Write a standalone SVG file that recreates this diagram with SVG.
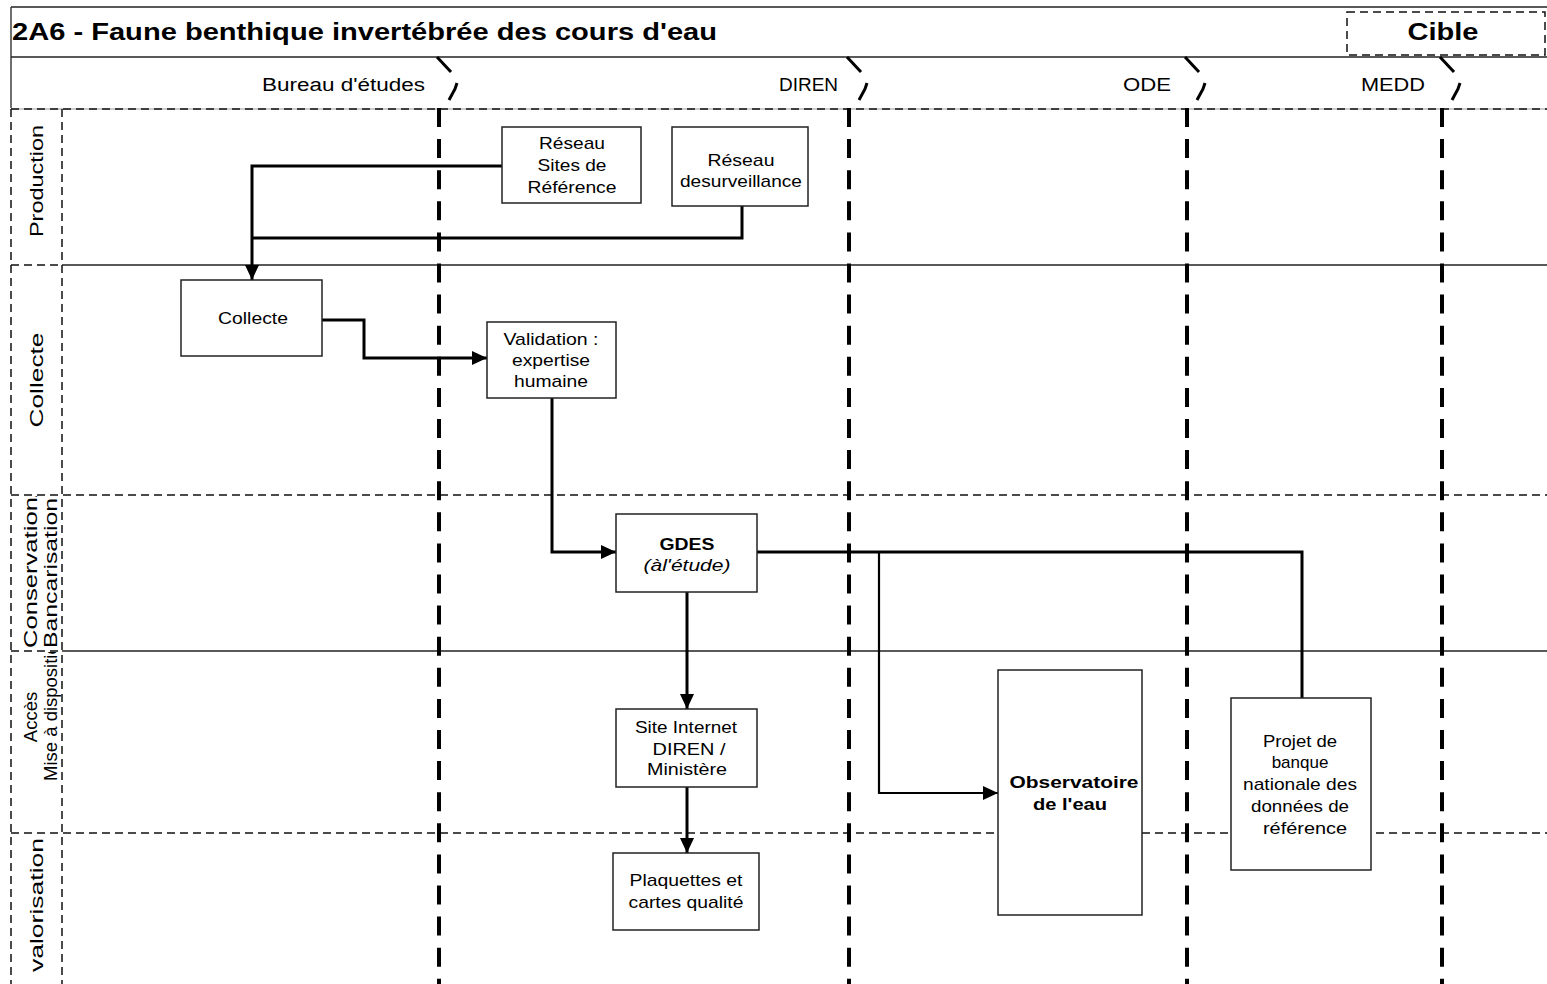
<svg xmlns="http://www.w3.org/2000/svg" width="1547" height="984" viewBox="0 0 1547 984">
<style>
text{font-family:"Liberation Sans",Arial,sans-serif;fill:#000}
.nt{font-size:17px;text-anchor:middle}
.lane{font-size:18px}
.side{font-size:19px}
.side2{font-size:18.5px}
.box{fill:#fff;stroke:#222;stroke-width:1.5}
.thin{stroke:#222;stroke-width:1.3;fill:none}
.hd{stroke:#111;stroke-width:1.5;stroke-dasharray:8 5;fill:none}
.vd{stroke:#000;stroke-width:4;stroke-dasharray:19 12.1;fill:none}
.br{stroke:#000;stroke-width:3;fill:none}
.cn{stroke:#000;stroke-width:3;fill:none}
</style>
<defs>
<marker id="ah" markerUnits="userSpaceOnUse" markerWidth="15" markerHeight="14" refX="15" refY="7" orient="auto">
<path d="M0,0 L15,7 L0,14 Z" fill="#000"/>
</marker>
<clipPath id="c1"><rect x="12" y="109" width="50" height="156"/></clipPath>
<clipPath id="c2"><rect x="12" y="265" width="50" height="230"/></clipPath>
<clipPath id="c3"><rect x="12" y="496" width="50" height="155"/></clipPath>
<clipPath id="c4"><rect x="12" y="652" width="50" height="181"/></clipPath>
<clipPath id="c5"><rect x="12" y="833" width="50" height="151"/></clipPath>
</defs>
<rect width="1547" height="984" fill="#fff"/>

<g id="frame">
<line class="thin" x1="11" y1="7" x2="1547" y2="7"/>
<line class="thin" x1="11" y1="7" x2="11" y2="108"/>
<line class="thin" x1="11" y1="57" x2="1547" y2="57"/>
<line x1="11" y1="109" x2="1547" y2="109" stroke="#bbb" stroke-width="1.5"/>
<line class="hd" x1="11" y1="109" x2="1547" y2="109"/>
<text x="12" y="40" font-size="23" font-weight="bold" textLength="705" lengthAdjust="spacingAndGlyphs">2A6 - Faune benthique invertébrée des cours d'eau</text>
<rect x="1347" y="12" width="198" height="43" fill="none" stroke="#111" stroke-width="1.5" stroke-dasharray="8 5"/>
<text x="1443" y="40" font-size="23" font-weight="bold" text-anchor="middle" textLength="71" lengthAdjust="spacingAndGlyphs">Cible</text>
</g>

<g id="lane-headers">
<text class="lane" x="262" y="91" textLength="163" lengthAdjust="spacingAndGlyphs">Bureau d'études</text>
<text class="lane" x="779" y="91" textLength="59" lengthAdjust="spacingAndGlyphs">DIREN</text>
<text class="lane" x="1123" y="91" textLength="48" lengthAdjust="spacingAndGlyphs">ODE</text>
<text class="lane" x="1361" y="91" textLength="64" lengthAdjust="spacingAndGlyphs">MEDD</text>
<path class="br" d="M437,57 L451,72 M457,83 L455,89 L449,100"/>
<path class="br" d="M847,57 L861,72 M867,83 L865,89 L859,100"/>
<path class="br" d="M1185,57 L1199,72 M1205,83 L1203,89 L1197,100"/>
<path class="br" d="M1440,57 L1454,72 M1460,83 L1458,89 L1452,100"/>
</g>

<g id="swimlanes">
<line class="hd" x1="11" y1="109" x2="11" y2="984"/>
<line class="hd" x1="62" y1="109" x2="62" y2="984"/>
<line class="hd" x1="11" y1="265" x2="62" y2="265"/>
<line class="thin" x1="62" y1="265" x2="1547" y2="265"/>
<line class="hd" x1="11" y1="495" x2="1547" y2="495"/>
<line class="hd" x1="11" y1="651" x2="62" y2="651"/>
<line class="thin" x1="62" y1="651" x2="1547" y2="651"/>
<line class="hd" x1="11" y1="833" x2="1547" y2="833"/>
<line class="vd" x1="439" y1="108" x2="439" y2="984"/>
<line class="vd" x1="849" y1="108" x2="849" y2="984"/>
<line class="vd" x1="1187" y1="108" x2="1187" y2="984"/>
<line class="vd" x1="1442" y1="108" x2="1442" y2="984"/>
<g clip-path="url(#c1)"><text class="side" x="43" y="181" transform="rotate(-90 43 181)" text-anchor="middle" textLength="112" lengthAdjust="spacingAndGlyphs">Production</text></g>
<g clip-path="url(#c2)"><text class="side" x="43" y="380" transform="rotate(-90 43 380)" text-anchor="middle" textLength="95" lengthAdjust="spacingAndGlyphs">Collecte</text></g>
<g clip-path="url(#c3)">
<text class="side" x="37" y="648" transform="rotate(-90 37 648)" textLength="158" lengthAdjust="spacingAndGlyphs">Conservation/</text>
<text class="side" x="57" y="648" transform="rotate(-90 57 648)" textLength="150" lengthAdjust="spacingAndGlyphs">Bancarisation</text>
</g>
<g clip-path="url(#c4)">
<text class="side2" x="37" y="717" transform="rotate(-90 37 717)" text-anchor="middle">Accès</text>
<text class="side2" x="57" y="781" transform="rotate(-90 57 781)">Mise à disposition</text>
</g>
<g clip-path="url(#c5)"><text class="side" x="43" y="905" transform="rotate(-90 43 905)" text-anchor="middle" textLength="134" lengthAdjust="spacingAndGlyphs">valorisation</text></g>
</g>

<g id="connectors">
<path class="cn" d="M502,166 L252,166 L252,280" marker-end="url(#ah)"/>
<path class="cn" d="M742,206 L742,238 L252,238"/>
<path class="cn" d="M322,320 L364,320 L364,358 L487,358" marker-end="url(#ah)"/>
<path class="cn" d="M552,397 L552,552 L616,552" marker-end="url(#ah)"/>
<path class="cn" d="M757,552 L1302,552 L1302,698"/>
<path d="M879,552 L879,793 L998,793" fill="none" stroke="#000" stroke-width="2.2" marker-end="url(#ah)"/>
<path class="cn" d="M687,592 L687,709" marker-end="url(#ah)"/>
<path class="cn" d="M687,787 L687,853" marker-end="url(#ah)"/>
</g>

<g id="n-reseau-sites">
<rect class="box" x="502" y="127" width="139" height="76"/>
<text class="nt" x="572" y="149" textLength="66" lengthAdjust="spacingAndGlyphs">Réseau</text>
<text class="nt" x="572" y="171" textLength="69" lengthAdjust="spacingAndGlyphs">Sites de</text>
<text class="nt" x="572" y="193" textLength="89" lengthAdjust="spacingAndGlyphs">Référence</text>
</g>
<g id="n-reseau-surv">
<rect class="box" x="672" y="127" width="136" height="79"/>
<text class="nt" x="741" y="166" textLength="67" lengthAdjust="spacingAndGlyphs">Réseau</text>
<text class="nt" x="741" y="187" textLength="122" lengthAdjust="spacingAndGlyphs">desurveillance</text>
</g>
<g id="n-collecte">
<rect class="box" x="181" y="280" width="141" height="76"/>
<text class="nt" x="253" y="324" textLength="70" lengthAdjust="spacingAndGlyphs">Collecte</text>
</g>
<g id="n-validation">
<rect class="box" x="487" y="322" width="129" height="76"/>
<text class="nt" x="551" y="345" textLength="95" lengthAdjust="spacingAndGlyphs">Validation :</text>
<text class="nt" x="551" y="366" textLength="78" lengthAdjust="spacingAndGlyphs">expertise</text>
<text class="nt" x="551" y="387" textLength="74" lengthAdjust="spacingAndGlyphs">humaine</text>
</g>
<g id="n-gdes">
<rect class="box" x="616" y="514" width="141" height="78"/>
<text class="nt" x="687" y="550" font-weight="bold" textLength="55" lengthAdjust="spacingAndGlyphs">GDES</text>
<text class="nt" x="687" y="571" font-style="italic" textLength="87" lengthAdjust="spacingAndGlyphs">(àl'étude)</text>
</g>
<g id="n-site-internet">
<rect class="box" x="616" y="709" width="141" height="78"/>
<text class="nt" x="686" y="733" textLength="102" lengthAdjust="spacingAndGlyphs">Site Internet</text>
<text class="nt" x="689" y="755" textLength="73" lengthAdjust="spacingAndGlyphs">DIREN /</text>
<text class="nt" x="687" y="775" textLength="80" lengthAdjust="spacingAndGlyphs">Ministère</text>
</g>
<g id="n-plaquettes">
<rect class="box" x="613" y="853" width="146" height="77"/>
<text class="nt" x="686" y="886" textLength="113" lengthAdjust="spacingAndGlyphs">Plaquettes et</text>
<text class="nt" x="686" y="908" textLength="115" lengthAdjust="spacingAndGlyphs">cartes qualité</text>
</g>
<g id="n-observatoire">
<rect class="box" x="998" y="670" width="144" height="245"/>
<text class="nt" x="1074" y="788" font-weight="bold" textLength="129" lengthAdjust="spacingAndGlyphs">Observatoire</text>
<text class="nt" x="1070" y="810" font-weight="bold" textLength="74" lengthAdjust="spacingAndGlyphs">de l'eau</text>
</g>
<g id="n-projet">
<rect class="box" x="1231" y="698" width="140" height="172"/>
<text class="nt" x="1300" y="747" textLength="74" lengthAdjust="spacingAndGlyphs">Projet de</text>
<text class="nt" x="1300" y="768">banque</text>
<text class="nt" x="1300" y="790" textLength="114" lengthAdjust="spacingAndGlyphs">nationale des</text>
<text class="nt" x="1300" y="812" textLength="98" lengthAdjust="spacingAndGlyphs">données de</text>
<text class="nt" x="1305" y="834" textLength="84" lengthAdjust="spacingAndGlyphs">référence</text>
</g>
</svg>
